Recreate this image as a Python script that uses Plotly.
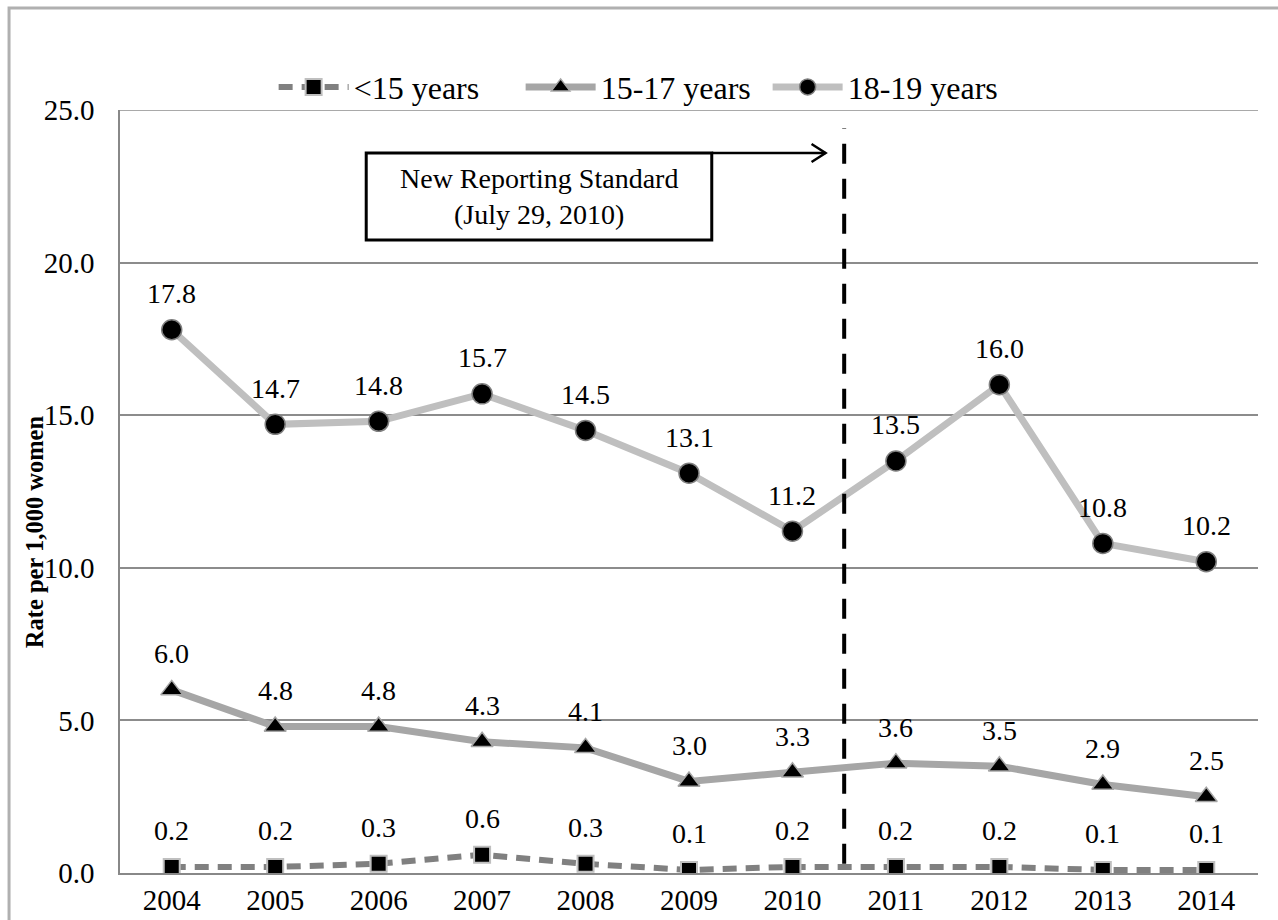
import plotly.graph_objects as go

# Rates per 1,000 women by age group
years = [2004, 2005, 2006, 2007, 2008, 2009, 2010, 2011, 2012, 2013, 2014]
under_15 = [0.2, 0.2, 0.3, 0.6, 0.3, 0.1, 0.2, 0.2, 0.2, 0.1, 0.1]
age_15_17 = [6.0, 4.8, 4.8, 4.3, 4.1, 3.0, 3.3, 3.6, 3.5, 2.9, 2.5]
age_18_19 = [17.8, 14.7, 14.8, 15.7, 14.5, 13.1, 11.2, 13.5, 16.0, 10.8, 10.2]
y_ticks = [0, 5, 10, 15, 20, 25]

FONT = "Liberation Serif, Times New Roman, serif"

fig = go.Figure()

fig.add_trace(go.Scatter(
    x=years, y=under_15, name="<15 years", mode="lines+markers",
    line=dict(color="#808080", width=6, dash="14px,9px"),
    marker=dict(symbol="square", size=16, color="black",
                line=dict(color="#bfbfbf", width=2)),
))
fig.add_trace(go.Scatter(
    x=years, y=age_15_17, name="15-17 years", mode="lines+markers",
    line=dict(color="#a6a6a6", width=7),
    marker=dict(symbol="triangle-up", size=19, color="black",
                line=dict(color="#a6a6a6", width=1.5)),
))
fig.add_trace(go.Scatter(
    x=years, y=age_18_19, name="18-19 years", mode="lines+markers",
    line=dict(color="#bfbfbf", width=7),
    marker=dict(symbol="circle", size=20, color="black",
                line=dict(color="#7f7f7f", width=1.5)),
))

annotations = []
for series in (under_15, age_15_17, age_18_19):
    for yr, v in zip(years, series):
        annotations.append(dict(
            x=yr, y=v, xref="x", yref="y", text=f"{v:.1f}",
            showarrow=False, yshift=36,
            font=dict(family=FONT, size=28, color="black"),
        ))

# note box for the reporting-standard change
box_x0, box_x1 = 2005.88, 2009.22
box_y0, box_y1 = 20.74, 23.59
annotations.append(dict(
    x=(box_x0 + box_x1) / 2, y=(box_y0 + box_y1) / 2, xref="x", yref="y",
    text="New Reporting Standard<br>(July 29, 2010)", showarrow=False,
    font=dict(family=FONT, size=28, color="black"), align="center",
))

# y-axis title
annotations.append(dict(
    x=-0.0756, y=0.448, xref="paper", yref="paper", text="<b>Rate per 1,000 women</b>",
    textangle=-90, showarrow=False, xanchor="center", yanchor="middle",
    font=dict(family=FONT, size=24.5, color="black"),
))

arrow_tip = 2010.32
shapes = [
    # outer frame of the chart
    dict(type="rect", xref="paper", yref="paper",
         x0=-0.0975, x1=1.2, y0=-0.2, y1=1.1337,
         line=dict(color="#b0b0b0", width=3), layer="below"),
    # top gridline at the end of the range
    dict(type="line", xref="paper", yref="y", x0=0, x1=1, y0=25, y1=25,
         line=dict(color="#8c8c8c", width=1.5), layer="below"),
    # reporting standard change
    dict(type="line", xref="x", yref="y", x0=2010.5, x1=2010.5, y0=0.3, y1=24.4,
         line=dict(color="black", width=4, dash="20px,15px"), layer="above"),
    dict(type="rect", xref="x", yref="y", x0=box_x0, x1=box_x1, y0=box_y0, y1=box_y1,
         line=dict(color="black", width=3), fillcolor="white", layer="above"),
    dict(type="line", xref="x", yref="y", x0=box_x1, x1=arrow_tip, y0=box_y1, y1=box_y1,
         line=dict(color="black", width=2.5), layer="above"),
    dict(type="path", xref="x", yref="y", xsizemode="pixel", ysizemode="pixel",
         xanchor=arrow_tip, yanchor=box_y1, path="M -14 9 L 0 0 L -14 -9",
         line=dict(color="black", width=2.5), layer="above"),
]

fig.update_layout(
    width=1278, height=920,
    margin=dict(l=120, r=20, t=110, b=47, autoexpand=False),
    paper_bgcolor="white", plot_bgcolor="white",
    font=dict(family=FONT, size=28, color="black"),
    showlegend=True,
    legend=dict(orientation="h", x=0.135, y=1.03, xanchor="left", yanchor="middle",
                font=dict(family=FONT, size=32, color="black"),
                itemwidth=70, entrywidth=162, entrywidthmode="pixels",
                traceorder="normal", bgcolor="rgba(0,0,0,0)"),
    annotations=annotations,
    shapes=shapes,
)

fig.update_xaxes(
    range=[2003.5, 2014.5], tickvals=years, ticktext=[str(y) for y in years],
    showgrid=False, zeroline=False, showline=True, linecolor="#888888", linewidth=1.5,
    ticks="", ticklabelstandoff=0, automargin=False,
    tickfont=dict(family=FONT, size=29, color="black"),
)
fig.update_yaxes(
    range=[0, 25], tickvals=y_ticks, ticktext=[f"{t:.1f}" for t in y_ticks],
    showgrid=True, gridcolor="#8c8c8c", gridwidth=1.5, zeroline=False,
    showline=True, linecolor="#888888", linewidth=1.5, automargin=False,
    ticks="", ticklabelstandoff=18, tickfont=dict(family=FONT, size=29, color="black"),
)

fig.write_html("out.html")
